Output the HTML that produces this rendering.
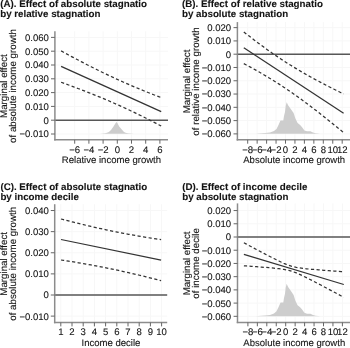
<!DOCTYPE html>
<html><head><meta charset="utf-8"><style>
html,body{margin:0;padding:0;background:#fff;overflow:hidden}
svg{display:block;will-change:transform;text-rendering:geometricPrecision;font-family:"Liberation Sans",sans-serif;fill:#141414}
text{stroke:#141414;stroke-width:0.1px}
text.b{stroke-width:0.1px}
</style></head><body>
<svg width="350" height="348" viewBox="0 0 350 348">
<rect width="350" height="348" fill="#fff"/>
<line x1="54.90" y1="37.40" x2="168.00" y2="37.40" stroke="#f7f7f7" stroke-width="1.0" />
<line x1="54.90" y1="51.20" x2="168.00" y2="51.20" stroke="#f7f7f7" stroke-width="1.0" />
<line x1="54.90" y1="65.00" x2="168.00" y2="65.00" stroke="#f7f7f7" stroke-width="1.0" />
<line x1="54.90" y1="78.80" x2="168.00" y2="78.80" stroke="#f7f7f7" stroke-width="1.0" />
<line x1="54.90" y1="92.60" x2="168.00" y2="92.60" stroke="#f7f7f7" stroke-width="1.0" />
<line x1="54.90" y1="106.40" x2="168.00" y2="106.40" stroke="#f7f7f7" stroke-width="1.0" />
<line x1="54.90" y1="120.20" x2="168.00" y2="120.20" stroke="#f7f7f7" stroke-width="1.0" />
<line x1="54.90" y1="134.00" x2="168.00" y2="134.00" stroke="#f7f7f7" stroke-width="1.0" />
<line x1="74.70" y1="31.30" x2="74.70" y2="139.80" stroke="#f7f7f7" stroke-width="1.0" />
<line x1="88.90" y1="31.30" x2="88.90" y2="139.80" stroke="#f7f7f7" stroke-width="1.0" />
<line x1="103.10" y1="31.30" x2="103.10" y2="139.80" stroke="#f7f7f7" stroke-width="1.0" />
<line x1="117.30" y1="31.30" x2="117.30" y2="139.80" stroke="#f7f7f7" stroke-width="1.0" />
<line x1="131.50" y1="31.30" x2="131.50" y2="139.80" stroke="#f7f7f7" stroke-width="1.0" />
<line x1="145.70" y1="31.30" x2="145.70" y2="139.80" stroke="#f7f7f7" stroke-width="1.0" />
<line x1="159.90" y1="31.30" x2="159.90" y2="139.80" stroke="#f7f7f7" stroke-width="1.0" />
<polygon points="100.00,133.70 105.00,133.30 107.00,132.80 108.90,131.90 111.00,130.10 113.50,126.40 115.50,123.20 116.50,121.90 117.50,123.20 119.20,126.40 122.20,130.10 124.00,131.90 125.60,132.80 128.00,133.30 134.00,133.70" fill="#cdcdcd"/>
<line x1="54.90" y1="120.20" x2="168.00" y2="120.20" stroke="#575757" stroke-width="1.5" />
<path d="M61.10,50.92 L63.60,52.28 L66.11,53.64 L68.61,54.99 L71.11,56.33 L73.61,57.66 L76.11,58.99 L78.62,60.30 L81.12,61.61 L83.62,62.91 L86.12,64.20 L88.63,65.48 L91.13,66.75 L93.63,68.01 L96.13,69.26 L98.64,70.50 L101.14,71.73 L103.64,72.95 L106.15,74.15 L108.65,75.34 L111.15,76.52 L113.65,77.69 L116.16,78.85 L118.66,79.99 L121.16,81.12 L123.66,82.24 L126.16,83.34 L128.67,84.44 L131.17,85.52 L133.67,86.58 L136.18,87.64 L138.68,88.69 L141.18,89.72 L143.68,90.74 L146.19,91.75 L148.69,92.75 L151.19,93.74 L153.69,94.72 L156.19,95.70 L158.70,96.66 L161.20,97.61" fill="none" stroke="#333333" stroke-width="1.25" stroke-dasharray="3.2 2.4"/>
<path d="M61.10,82.28 L63.60,83.18 L66.11,84.08 L68.61,84.99 L71.11,85.91 L73.61,86.84 L76.11,87.77 L78.62,88.72 L81.12,89.67 L83.62,90.63 L86.12,91.60 L88.63,92.58 L91.13,93.57 L93.63,94.57 L96.13,95.58 L98.64,96.60 L101.14,97.63 L103.64,98.67 L106.15,99.73 L108.65,100.80 L111.15,101.88 L113.65,102.97 L116.16,104.07 L118.66,105.19 L121.16,106.32 L123.66,107.46 L126.16,108.62 L128.67,109.78 L131.17,110.96 L133.67,112.16 L136.18,113.36 L138.68,114.57 L141.18,115.80 L143.68,117.04 L146.19,118.29 L148.69,119.55 L151.19,120.82 L153.69,122.10 L156.19,123.38 L158.70,124.68 L161.20,125.99" fill="none" stroke="#333333" stroke-width="1.25" stroke-dasharray="3.2 2.4"/>
<line x1="61.10" y1="66.40" x2="161.20" y2="111.60" stroke="#333333" stroke-width="1.25" />
<line x1="54.90" y1="31.30" x2="54.90" y2="140.55" stroke="#8c8c8c" stroke-width="1.5" />
<line x1="54.15" y1="139.80" x2="168.00" y2="139.80" stroke="#8c8c8c" stroke-width="1.5" />
<line x1="51.00" y1="37.40" x2="54.90" y2="37.40" stroke="#666666" stroke-width="1.0" />
<text x="48.90" y="40.82" font-size="9.55" font-weight="normal" text-anchor="end" >0.060</text>
<line x1="51.00" y1="51.20" x2="54.90" y2="51.20" stroke="#666666" stroke-width="1.0" />
<text x="48.90" y="54.62" font-size="9.55" font-weight="normal" text-anchor="end" >0.050</text>
<line x1="51.00" y1="65.00" x2="54.90" y2="65.00" stroke="#666666" stroke-width="1.0" />
<text x="48.90" y="68.42" font-size="9.55" font-weight="normal" text-anchor="end" >0.040</text>
<line x1="51.00" y1="78.80" x2="54.90" y2="78.80" stroke="#666666" stroke-width="1.0" />
<text x="48.90" y="82.22" font-size="9.55" font-weight="normal" text-anchor="end" >0.030</text>
<line x1="51.00" y1="92.60" x2="54.90" y2="92.60" stroke="#666666" stroke-width="1.0" />
<text x="48.90" y="96.02" font-size="9.55" font-weight="normal" text-anchor="end" >0.020</text>
<line x1="51.00" y1="106.40" x2="54.90" y2="106.40" stroke="#666666" stroke-width="1.0" />
<text x="48.90" y="109.82" font-size="9.55" font-weight="normal" text-anchor="end" >0.010</text>
<line x1="51.00" y1="120.20" x2="54.90" y2="120.20" stroke="#666666" stroke-width="1.0" />
<text x="48.90" y="123.62" font-size="9.55" font-weight="normal" text-anchor="end" >0</text>
<line x1="51.00" y1="134.00" x2="54.90" y2="134.00" stroke="#666666" stroke-width="1.0" />
<text x="48.90" y="137.42" font-size="9.55" font-weight="normal" text-anchor="end" >−0.010</text>
<line x1="74.70" y1="139.80" x2="74.70" y2="143.70" stroke="#666666" stroke-width="1.0" />
<text x="74.70" y="153.10" font-size="9.55" font-weight="normal" text-anchor="middle" >−6</text>
<line x1="88.90" y1="139.80" x2="88.90" y2="143.70" stroke="#666666" stroke-width="1.0" />
<text x="88.90" y="153.10" font-size="9.55" font-weight="normal" text-anchor="middle" >−4</text>
<line x1="103.10" y1="139.80" x2="103.10" y2="143.70" stroke="#666666" stroke-width="1.0" />
<text x="103.10" y="153.10" font-size="9.55" font-weight="normal" text-anchor="middle" >−2</text>
<line x1="117.30" y1="139.80" x2="117.30" y2="143.70" stroke="#666666" stroke-width="1.0" />
<text x="117.30" y="153.10" font-size="9.55" font-weight="normal" text-anchor="middle" >0</text>
<line x1="131.50" y1="139.80" x2="131.50" y2="143.70" stroke="#666666" stroke-width="1.0" />
<text x="131.50" y="153.10" font-size="9.55" font-weight="normal" text-anchor="middle" >2</text>
<line x1="145.70" y1="139.80" x2="145.70" y2="143.70" stroke="#666666" stroke-width="1.0" />
<text x="145.70" y="153.10" font-size="9.55" font-weight="normal" text-anchor="middle" >4</text>
<line x1="159.90" y1="139.80" x2="159.90" y2="143.70" stroke="#666666" stroke-width="1.0" />
<text x="159.90" y="153.10" font-size="9.55" font-weight="normal" text-anchor="middle" >6</text>
<text x="111.45" y="163.00" font-size="9.55" font-weight="normal" text-anchor="middle" >Relative income growth</text>
<text x="0.00" y="0.00" font-size="9.75" font-weight="normal" text-anchor="middle" transform="translate(7.00,86.05) rotate(-90)">Marginal effect</text>
<text x="0.00" y="0.00" font-size="9.75" font-weight="normal" text-anchor="middle" transform="translate(16.30,86.05) rotate(-90)">of absolute income growth</text>
<text class="b" x="0.20" y="6.90" font-size="9.75" font-weight="bold" text-anchor="start" >(A). Effect of absolute stagnatio</text>
<text class="b" x="0.20" y="16.70" font-size="9.75" font-weight="bold" text-anchor="start" >by relative stagnation</text>
<line x1="237.40" y1="27.64" x2="351.00" y2="27.64" stroke="#f7f7f7" stroke-width="1.0" />
<line x1="237.40" y1="40.92" x2="351.00" y2="40.92" stroke="#f7f7f7" stroke-width="1.0" />
<line x1="237.40" y1="54.20" x2="351.00" y2="54.20" stroke="#f7f7f7" stroke-width="1.0" />
<line x1="237.40" y1="67.48" x2="351.00" y2="67.48" stroke="#f7f7f7" stroke-width="1.0" />
<line x1="237.40" y1="80.76" x2="351.00" y2="80.76" stroke="#f7f7f7" stroke-width="1.0" />
<line x1="237.40" y1="94.04" x2="351.00" y2="94.04" stroke="#f7f7f7" stroke-width="1.0" />
<line x1="237.40" y1="107.32" x2="351.00" y2="107.32" stroke="#f7f7f7" stroke-width="1.0" />
<line x1="237.40" y1="120.60" x2="351.00" y2="120.60" stroke="#f7f7f7" stroke-width="1.0" />
<line x1="237.40" y1="133.88" x2="351.00" y2="133.88" stroke="#f7f7f7" stroke-width="1.0" />
<line x1="247.70" y1="22.10" x2="247.70" y2="139.80" stroke="#f7f7f7" stroke-width="1.0" />
<line x1="257.15" y1="22.10" x2="257.15" y2="139.80" stroke="#f7f7f7" stroke-width="1.0" />
<line x1="266.60" y1="22.10" x2="266.60" y2="139.80" stroke="#f7f7f7" stroke-width="1.0" />
<line x1="276.05" y1="22.10" x2="276.05" y2="139.80" stroke="#f7f7f7" stroke-width="1.0" />
<line x1="285.50" y1="22.10" x2="285.50" y2="139.80" stroke="#f7f7f7" stroke-width="1.0" />
<line x1="294.95" y1="22.10" x2="294.95" y2="139.80" stroke="#f7f7f7" stroke-width="1.0" />
<line x1="304.40" y1="22.10" x2="304.40" y2="139.80" stroke="#f7f7f7" stroke-width="1.0" />
<line x1="313.85" y1="22.10" x2="313.85" y2="139.80" stroke="#f7f7f7" stroke-width="1.0" />
<line x1="323.30" y1="22.10" x2="323.30" y2="139.80" stroke="#f7f7f7" stroke-width="1.0" />
<line x1="332.75" y1="22.10" x2="332.75" y2="139.80" stroke="#f7f7f7" stroke-width="1.0" />
<line x1="342.20" y1="22.10" x2="342.20" y2="139.80" stroke="#f7f7f7" stroke-width="1.0" />
<polygon points="256.00,133.70 258.00,133.50 265.00,133.10 270.00,132.50 274.00,131.00 276.50,129.00 278.50,125.00 280.00,121.50 280.60,120.40 283.30,120.40 284.00,116.00 285.00,112.00 285.70,105.90 286.70,102.30 288.10,105.30 291.10,109.50 293.60,113.10 295.40,118.60 297.60,123.10 300.10,124.90 301.90,127.00 304.40,130.40 307.00,131.30 310.40,131.30 313.00,132.60 315.60,133.20 318.10,133.40 320.00,133.70" fill="#cdcdcd"/>
<line x1="237.40" y1="54.20" x2="351.00" y2="54.20" stroke="#575757" stroke-width="1.5" />
<path d="M243.80,31.98 L246.30,33.93 L248.79,35.86 L251.29,37.78 L253.78,39.68 L256.28,41.56 L258.77,43.43 L261.26,45.27 L263.76,47.09 L266.25,48.90 L268.75,50.68 L271.25,52.43 L273.74,54.16 L276.24,55.87 L278.73,57.55 L281.23,59.21 L283.72,60.84 L286.22,62.45 L288.71,64.03 L291.21,65.59 L293.70,67.13 L296.19,68.64 L298.69,70.12 L301.19,71.59 L303.68,73.03 L306.18,74.46 L308.67,75.86 L311.17,77.24 L313.66,78.61 L316.16,79.96 L318.65,81.30 L321.14,82.62 L323.64,83.92 L326.13,85.21 L328.63,86.49 L331.12,87.76 L333.62,89.02 L336.12,90.27 L338.61,91.50 L341.11,92.73 L343.60,93.95" fill="none" stroke="#333333" stroke-width="1.25" stroke-dasharray="3.2 2.4"/>
<path d="M243.80,63.62 L246.30,64.95 L248.79,66.29 L251.29,67.65 L253.78,69.02 L256.28,70.41 L258.77,71.82 L261.26,73.25 L263.76,74.71 L266.25,76.18 L268.75,77.67 L271.25,79.19 L273.74,80.74 L276.24,82.30 L278.73,83.90 L281.23,85.51 L283.72,87.16 L286.22,88.82 L288.71,90.52 L291.21,92.23 L293.70,93.97 L296.19,95.74 L298.69,97.53 L301.19,99.34 L303.68,101.17 L306.18,103.02 L308.67,104.89 L311.17,106.78 L313.66,108.69 L316.16,110.61 L318.65,112.55 L321.14,114.51 L323.64,116.48 L326.13,118.46 L328.63,120.46 L331.12,122.46 L333.62,124.48 L336.12,126.51 L338.61,128.55 L341.11,130.59 L343.60,132.65" fill="none" stroke="#333333" stroke-width="1.25" stroke-dasharray="3.2 2.4"/>
<line x1="243.80" y1="47.80" x2="343.60" y2="113.30" stroke="#333333" stroke-width="1.25" />
<line x1="237.40" y1="22.10" x2="237.40" y2="140.55" stroke="#8c8c8c" stroke-width="1.5" />
<line x1="236.65" y1="139.80" x2="351.00" y2="139.80" stroke="#8c8c8c" stroke-width="1.5" />
<line x1="233.50" y1="27.64" x2="237.40" y2="27.64" stroke="#666666" stroke-width="1.0" />
<text x="231.10" y="31.06" font-size="9.55" font-weight="normal" text-anchor="end" >0.020</text>
<line x1="233.50" y1="40.92" x2="237.40" y2="40.92" stroke="#666666" stroke-width="1.0" />
<text x="231.10" y="44.34" font-size="9.55" font-weight="normal" text-anchor="end" >0.010</text>
<line x1="233.50" y1="54.20" x2="237.40" y2="54.20" stroke="#666666" stroke-width="1.0" />
<text x="231.10" y="57.62" font-size="9.55" font-weight="normal" text-anchor="end" >0</text>
<line x1="233.50" y1="67.48" x2="237.40" y2="67.48" stroke="#666666" stroke-width="1.0" />
<text x="231.10" y="70.90" font-size="9.55" font-weight="normal" text-anchor="end" >−0.010</text>
<line x1="233.50" y1="80.76" x2="237.40" y2="80.76" stroke="#666666" stroke-width="1.0" />
<text x="231.10" y="84.18" font-size="9.55" font-weight="normal" text-anchor="end" >−0.020</text>
<line x1="233.50" y1="94.04" x2="237.40" y2="94.04" stroke="#666666" stroke-width="1.0" />
<text x="231.10" y="97.46" font-size="9.55" font-weight="normal" text-anchor="end" >−0.030</text>
<line x1="233.50" y1="107.32" x2="237.40" y2="107.32" stroke="#666666" stroke-width="1.0" />
<text x="231.10" y="110.74" font-size="9.55" font-weight="normal" text-anchor="end" >−0.040</text>
<line x1="233.50" y1="120.60" x2="237.40" y2="120.60" stroke="#666666" stroke-width="1.0" />
<text x="231.10" y="124.02" font-size="9.55" font-weight="normal" text-anchor="end" >−0.050</text>
<line x1="233.50" y1="133.88" x2="237.40" y2="133.88" stroke="#666666" stroke-width="1.0" />
<text x="231.10" y="137.30" font-size="9.55" font-weight="normal" text-anchor="end" >−0.060</text>
<line x1="247.70" y1="139.80" x2="247.70" y2="143.70" stroke="#666666" stroke-width="1.0" />
<text x="247.70" y="153.00" font-size="9.55" font-weight="normal" text-anchor="middle" >−8</text>
<line x1="257.15" y1="139.80" x2="257.15" y2="143.70" stroke="#666666" stroke-width="1.0" />
<text x="257.15" y="153.00" font-size="9.55" font-weight="normal" text-anchor="middle" >−6</text>
<line x1="266.60" y1="139.80" x2="266.60" y2="143.70" stroke="#666666" stroke-width="1.0" />
<text x="266.60" y="153.00" font-size="9.55" font-weight="normal" text-anchor="middle" >−4</text>
<line x1="276.05" y1="139.80" x2="276.05" y2="143.70" stroke="#666666" stroke-width="1.0" />
<text x="276.05" y="153.00" font-size="9.55" font-weight="normal" text-anchor="middle" >−2</text>
<line x1="285.50" y1="139.80" x2="285.50" y2="143.70" stroke="#666666" stroke-width="1.0" />
<text x="285.50" y="153.00" font-size="9.55" font-weight="normal" text-anchor="middle" >0</text>
<line x1="294.95" y1="139.80" x2="294.95" y2="143.70" stroke="#666666" stroke-width="1.0" />
<text x="294.95" y="153.00" font-size="9.55" font-weight="normal" text-anchor="middle" >2</text>
<line x1="304.40" y1="139.80" x2="304.40" y2="143.70" stroke="#666666" stroke-width="1.0" />
<text x="304.40" y="153.00" font-size="9.55" font-weight="normal" text-anchor="middle" >4</text>
<line x1="313.85" y1="139.80" x2="313.85" y2="143.70" stroke="#666666" stroke-width="1.0" />
<text x="313.85" y="153.00" font-size="9.55" font-weight="normal" text-anchor="middle" >6</text>
<line x1="323.30" y1="139.80" x2="323.30" y2="143.70" stroke="#666666" stroke-width="1.0" />
<text x="323.30" y="153.00" font-size="9.55" font-weight="normal" text-anchor="middle" >8</text>
<line x1="332.75" y1="139.80" x2="332.75" y2="143.70" stroke="#666666" stroke-width="1.0" />
<text x="332.75" y="153.00" font-size="9.55" font-weight="normal" text-anchor="middle" >10</text>
<line x1="342.20" y1="139.80" x2="342.20" y2="143.70" stroke="#666666" stroke-width="1.0" />
<text x="342.20" y="153.00" font-size="9.55" font-weight="normal" text-anchor="middle" >12</text>
<text x="294.20" y="162.90" font-size="9.55" font-weight="normal" text-anchor="middle" >Absolute income growth</text>
<text x="0.00" y="0.00" font-size="9.75" font-weight="normal" text-anchor="middle" transform="translate(189.60,81.45) rotate(-90)">Marginal effect</text>
<text x="0.00" y="0.00" font-size="9.75" font-weight="normal" text-anchor="middle" transform="translate(199.30,81.45) rotate(-90)">of relative income growth</text>
<text class="b" x="182.00" y="6.90" font-size="9.75" font-weight="bold" text-anchor="start" >(B). Effect of relative stagnatio</text>
<text class="b" x="182.00" y="16.70" font-size="9.75" font-weight="bold" text-anchor="start" >by absolute stagnation</text>
<line x1="54.70" y1="210.52" x2="167.20" y2="210.52" stroke="#f7f7f7" stroke-width="1.0" />
<line x1="54.70" y1="231.64" x2="167.20" y2="231.64" stroke="#f7f7f7" stroke-width="1.0" />
<line x1="54.70" y1="252.76" x2="167.20" y2="252.76" stroke="#f7f7f7" stroke-width="1.0" />
<line x1="54.70" y1="273.88" x2="167.20" y2="273.88" stroke="#f7f7f7" stroke-width="1.0" />
<line x1="54.70" y1="295.00" x2="167.20" y2="295.00" stroke="#f7f7f7" stroke-width="1.0" />
<line x1="54.70" y1="316.12" x2="167.20" y2="316.12" stroke="#f7f7f7" stroke-width="1.0" />
<line x1="60.80" y1="204.20" x2="60.80" y2="322.50" stroke="#f7f7f7" stroke-width="1.0" />
<line x1="72.00" y1="204.20" x2="72.00" y2="322.50" stroke="#f7f7f7" stroke-width="1.0" />
<line x1="83.20" y1="204.20" x2="83.20" y2="322.50" stroke="#f7f7f7" stroke-width="1.0" />
<line x1="94.40" y1="204.20" x2="94.40" y2="322.50" stroke="#f7f7f7" stroke-width="1.0" />
<line x1="105.60" y1="204.20" x2="105.60" y2="322.50" stroke="#f7f7f7" stroke-width="1.0" />
<line x1="116.80" y1="204.20" x2="116.80" y2="322.50" stroke="#f7f7f7" stroke-width="1.0" />
<line x1="128.00" y1="204.20" x2="128.00" y2="322.50" stroke="#f7f7f7" stroke-width="1.0" />
<line x1="139.20" y1="204.20" x2="139.20" y2="322.50" stroke="#f7f7f7" stroke-width="1.0" />
<line x1="150.40" y1="204.20" x2="150.40" y2="322.50" stroke="#f7f7f7" stroke-width="1.0" />
<line x1="161.60" y1="204.20" x2="161.60" y2="322.50" stroke="#f7f7f7" stroke-width="1.0" />
<line x1="54.70" y1="295.00" x2="167.20" y2="295.00" stroke="#575757" stroke-width="1.5" />
<path d="M61.00,219.00 L63.50,219.66 L66.00,220.31 L68.51,220.96 L71.01,221.60 L73.51,222.23 L76.02,222.86 L78.52,223.48 L81.02,224.09 L83.52,224.69 L86.03,225.29 L88.53,225.88 L91.03,226.46 L93.53,227.04 L96.03,227.61 L98.54,228.17 L101.04,228.72 L103.54,229.26 L106.05,229.80 L108.55,230.33 L111.05,230.85 L113.55,231.36 L116.05,231.87 L118.56,232.37 L121.06,232.86 L123.56,233.34 L126.06,233.81 L128.57,234.28 L131.07,234.74 L133.57,235.19 L136.07,235.64 L138.58,236.07 L141.08,236.50 L143.58,236.93 L146.08,237.34 L148.59,237.75 L151.09,238.15 L153.59,238.55 L156.09,238.94 L158.60,239.32 L161.10,239.69" fill="none" stroke="#333333" stroke-width="1.25" stroke-dasharray="3.2 2.4"/>
<path d="M61.00,260.00 L63.50,260.38 L66.00,260.76 L68.51,261.15 L71.01,261.54 L73.51,261.94 L76.02,262.35 L78.52,262.77 L81.02,263.19 L83.52,263.62 L86.03,264.06 L88.53,264.50 L91.03,264.96 L93.53,265.42 L96.03,265.88 L98.54,266.36 L101.04,266.84 L103.54,267.33 L106.05,267.83 L108.55,268.34 L111.05,268.85 L113.55,269.37 L116.05,269.90 L118.56,270.44 L121.06,270.98 L123.56,271.54 L126.06,272.10 L128.57,272.66 L131.07,273.24 L133.57,273.82 L136.07,274.41 L138.58,275.01 L141.08,275.62 L143.58,276.23 L146.08,276.85 L148.59,277.47 L151.09,278.11 L153.59,278.75 L156.09,279.39 L158.60,280.05 L161.10,280.71" fill="none" stroke="#333333" stroke-width="1.25" stroke-dasharray="3.2 2.4"/>
<line x1="61.00" y1="239.50" x2="161.10" y2="260.20" stroke="#333333" stroke-width="1.25" />
<line x1="54.70" y1="204.20" x2="54.70" y2="323.25" stroke="#8c8c8c" stroke-width="1.5" />
<line x1="53.95" y1="322.50" x2="167.20" y2="322.50" stroke="#8c8c8c" stroke-width="1.5" />
<line x1="50.80" y1="210.52" x2="54.70" y2="210.52" stroke="#666666" stroke-width="1.0" />
<text x="48.90" y="213.94" font-size="9.55" font-weight="normal" text-anchor="end" >0.040</text>
<line x1="50.80" y1="231.64" x2="54.70" y2="231.64" stroke="#666666" stroke-width="1.0" />
<text x="48.90" y="235.06" font-size="9.55" font-weight="normal" text-anchor="end" >0.030</text>
<line x1="50.80" y1="252.76" x2="54.70" y2="252.76" stroke="#666666" stroke-width="1.0" />
<text x="48.90" y="256.18" font-size="9.55" font-weight="normal" text-anchor="end" >0.020</text>
<line x1="50.80" y1="273.88" x2="54.70" y2="273.88" stroke="#666666" stroke-width="1.0" />
<text x="48.90" y="277.30" font-size="9.55" font-weight="normal" text-anchor="end" >0.010</text>
<line x1="50.80" y1="295.00" x2="54.70" y2="295.00" stroke="#666666" stroke-width="1.0" />
<text x="48.90" y="298.42" font-size="9.55" font-weight="normal" text-anchor="end" >0</text>
<line x1="50.80" y1="316.12" x2="54.70" y2="316.12" stroke="#666666" stroke-width="1.0" />
<text x="48.90" y="319.54" font-size="9.55" font-weight="normal" text-anchor="end" >−0.010</text>
<line x1="60.80" y1="322.50" x2="60.80" y2="326.40" stroke="#666666" stroke-width="1.0" />
<text x="60.80" y="334.80" font-size="9.55" font-weight="normal" text-anchor="middle" >1</text>
<line x1="72.00" y1="322.50" x2="72.00" y2="326.40" stroke="#666666" stroke-width="1.0" />
<text x="72.00" y="334.80" font-size="9.55" font-weight="normal" text-anchor="middle" >2</text>
<line x1="83.20" y1="322.50" x2="83.20" y2="326.40" stroke="#666666" stroke-width="1.0" />
<text x="83.20" y="334.80" font-size="9.55" font-weight="normal" text-anchor="middle" >3</text>
<line x1="94.40" y1="322.50" x2="94.40" y2="326.40" stroke="#666666" stroke-width="1.0" />
<text x="94.40" y="334.80" font-size="9.55" font-weight="normal" text-anchor="middle" >4</text>
<line x1="105.60" y1="322.50" x2="105.60" y2="326.40" stroke="#666666" stroke-width="1.0" />
<text x="105.60" y="334.80" font-size="9.55" font-weight="normal" text-anchor="middle" >5</text>
<line x1="116.80" y1="322.50" x2="116.80" y2="326.40" stroke="#666666" stroke-width="1.0" />
<text x="116.80" y="334.80" font-size="9.55" font-weight="normal" text-anchor="middle" >6</text>
<line x1="128.00" y1="322.50" x2="128.00" y2="326.40" stroke="#666666" stroke-width="1.0" />
<text x="128.00" y="334.80" font-size="9.55" font-weight="normal" text-anchor="middle" >7</text>
<line x1="139.20" y1="322.50" x2="139.20" y2="326.40" stroke="#666666" stroke-width="1.0" />
<text x="139.20" y="334.80" font-size="9.55" font-weight="normal" text-anchor="middle" >8</text>
<line x1="150.40" y1="322.50" x2="150.40" y2="326.40" stroke="#666666" stroke-width="1.0" />
<text x="150.40" y="334.80" font-size="9.55" font-weight="normal" text-anchor="middle" >9</text>
<line x1="161.60" y1="322.50" x2="161.60" y2="326.40" stroke="#666666" stroke-width="1.0" />
<text x="161.60" y="334.80" font-size="9.55" font-weight="normal" text-anchor="middle" >10</text>
<text x="110.95" y="345.60" font-size="9.55" font-weight="normal" text-anchor="middle" >Income decile</text>
<text x="0.00" y="0.00" font-size="9.75" font-weight="normal" text-anchor="middle" transform="translate(7.00,263.85) rotate(-90)">Marginal effect</text>
<text x="0.00" y="0.00" font-size="9.75" font-weight="normal" text-anchor="middle" transform="translate(16.30,263.85) rotate(-90)">of absolute income growth</text>
<text class="b" x="0.40" y="189.90" font-size="9.75" font-weight="bold" text-anchor="start" >(C). Effect of absolute stagnatio</text>
<text class="b" x="0.40" y="199.70" font-size="9.75" font-weight="bold" text-anchor="start" >by income decile</text>
<line x1="237.50" y1="210.56" x2="351.00" y2="210.56" stroke="#f7f7f7" stroke-width="1.0" />
<line x1="237.50" y1="223.78" x2="351.00" y2="223.78" stroke="#f7f7f7" stroke-width="1.0" />
<line x1="237.50" y1="237.00" x2="351.00" y2="237.00" stroke="#f7f7f7" stroke-width="1.0" />
<line x1="237.50" y1="250.22" x2="351.00" y2="250.22" stroke="#f7f7f7" stroke-width="1.0" />
<line x1="237.50" y1="263.44" x2="351.00" y2="263.44" stroke="#f7f7f7" stroke-width="1.0" />
<line x1="237.50" y1="276.66" x2="351.00" y2="276.66" stroke="#f7f7f7" stroke-width="1.0" />
<line x1="237.50" y1="289.88" x2="351.00" y2="289.88" stroke="#f7f7f7" stroke-width="1.0" />
<line x1="237.50" y1="303.10" x2="351.00" y2="303.10" stroke="#f7f7f7" stroke-width="1.0" />
<line x1="237.50" y1="316.32" x2="351.00" y2="316.32" stroke="#f7f7f7" stroke-width="1.0" />
<line x1="247.90" y1="203.40" x2="247.90" y2="322.40" stroke="#f7f7f7" stroke-width="1.0" />
<line x1="257.35" y1="203.40" x2="257.35" y2="322.40" stroke="#f7f7f7" stroke-width="1.0" />
<line x1="266.80" y1="203.40" x2="266.80" y2="322.40" stroke="#f7f7f7" stroke-width="1.0" />
<line x1="276.25" y1="203.40" x2="276.25" y2="322.40" stroke="#f7f7f7" stroke-width="1.0" />
<line x1="285.70" y1="203.40" x2="285.70" y2="322.40" stroke="#f7f7f7" stroke-width="1.0" />
<line x1="295.15" y1="203.40" x2="295.15" y2="322.40" stroke="#f7f7f7" stroke-width="1.0" />
<line x1="304.60" y1="203.40" x2="304.60" y2="322.40" stroke="#f7f7f7" stroke-width="1.0" />
<line x1="314.05" y1="203.40" x2="314.05" y2="322.40" stroke="#f7f7f7" stroke-width="1.0" />
<line x1="323.50" y1="203.40" x2="323.50" y2="322.40" stroke="#f7f7f7" stroke-width="1.0" />
<line x1="332.95" y1="203.40" x2="332.95" y2="322.40" stroke="#f7f7f7" stroke-width="1.0" />
<line x1="342.40" y1="203.40" x2="342.40" y2="322.40" stroke="#f7f7f7" stroke-width="1.0" />
<polygon points="256.00,316.20 258.00,315.99 265.00,315.58 270.00,314.96 274.00,313.42 276.50,311.36 278.50,307.24 280.00,303.63 280.60,302.50 283.30,302.50 284.00,297.97 285.00,293.85 285.70,287.57 286.70,283.86 288.10,286.95 291.10,291.27 293.60,294.98 295.40,300.65 297.60,305.28 300.10,307.14 301.90,309.30 304.40,312.80 307.00,313.73 310.40,313.73 313.00,315.07 315.60,315.69 318.10,315.89 320.00,316.20" fill="#cdcdcd"/>
<line x1="237.50" y1="237.00" x2="351.00" y2="237.00" stroke="#575757" stroke-width="1.5" />
<path d="M243.90,242.80 L246.40,244.13 L248.90,245.46 L251.39,246.79 L253.89,248.12 L256.39,249.45 L258.88,250.77 L261.38,252.09 L263.88,253.40 L266.38,254.70 L268.88,256.00 L271.37,257.29 L273.87,258.56 L276.37,259.81 L278.87,261.03 L281.36,262.22 L283.86,263.34 L286.36,264.39 L288.86,265.33 L291.35,266.14 L293.85,266.82 L296.35,267.36 L298.85,267.80 L301.34,268.17 L303.84,268.49 L306.34,268.77 L308.84,269.03 L311.33,269.26 L313.83,269.48 L316.33,269.69 L318.82,269.90 L321.32,270.09 L323.82,270.28 L326.32,270.47 L328.81,270.66 L331.31,270.84 L333.81,271.02 L336.31,271.19 L338.81,271.37 L341.30,271.54 L343.80,271.72" fill="none" stroke="#333333" stroke-width="1.25" stroke-dasharray="3.2 2.4"/>
<path d="M243.90,265.80 L246.40,265.98 L248.90,266.16 L251.39,266.34 L253.89,266.52 L256.39,266.70 L258.88,266.89 L261.38,267.08 L263.88,267.28 L266.38,267.49 L268.88,267.70 L271.37,267.92 L273.87,268.16 L276.37,268.42 L278.87,268.71 L281.36,269.03 L283.86,269.42 L286.36,269.88 L288.86,270.45 L291.35,271.15 L293.85,271.98 L296.35,272.95 L298.85,274.02 L301.34,275.16 L303.84,276.35 L306.34,277.58 L308.84,278.83 L311.33,280.11 L313.83,281.40 L316.33,282.70 L318.82,284.00 L321.32,285.32 L323.82,286.64 L326.32,287.96 L328.81,289.28 L331.31,290.61 L333.81,291.94 L336.31,293.28 L338.81,294.61 L341.30,295.95 L343.80,297.28" fill="none" stroke="#333333" stroke-width="1.25" stroke-dasharray="3.2 2.4"/>
<line x1="243.90" y1="254.30" x2="343.80" y2="284.50" stroke="#333333" stroke-width="1.25" />
<line x1="237.50" y1="203.40" x2="237.50" y2="323.15" stroke="#8c8c8c" stroke-width="1.5" />
<line x1="236.75" y1="322.40" x2="351.00" y2="322.40" stroke="#8c8c8c" stroke-width="1.5" />
<line x1="233.60" y1="210.56" x2="237.50" y2="210.56" stroke="#666666" stroke-width="1.0" />
<text x="231.10" y="213.98" font-size="9.55" font-weight="normal" text-anchor="end" >0.020</text>
<line x1="233.60" y1="223.78" x2="237.50" y2="223.78" stroke="#666666" stroke-width="1.0" />
<text x="231.10" y="227.20" font-size="9.55" font-weight="normal" text-anchor="end" >0.010</text>
<line x1="233.60" y1="237.00" x2="237.50" y2="237.00" stroke="#666666" stroke-width="1.0" />
<text x="231.10" y="240.42" font-size="9.55" font-weight="normal" text-anchor="end" >0</text>
<line x1="233.60" y1="250.22" x2="237.50" y2="250.22" stroke="#666666" stroke-width="1.0" />
<text x="231.10" y="253.64" font-size="9.55" font-weight="normal" text-anchor="end" >−0.010</text>
<line x1="233.60" y1="263.44" x2="237.50" y2="263.44" stroke="#666666" stroke-width="1.0" />
<text x="231.10" y="266.86" font-size="9.55" font-weight="normal" text-anchor="end" >−0.020</text>
<line x1="233.60" y1="276.66" x2="237.50" y2="276.66" stroke="#666666" stroke-width="1.0" />
<text x="231.10" y="280.08" font-size="9.55" font-weight="normal" text-anchor="end" >−0.030</text>
<line x1="233.60" y1="289.88" x2="237.50" y2="289.88" stroke="#666666" stroke-width="1.0" />
<text x="231.10" y="293.30" font-size="9.55" font-weight="normal" text-anchor="end" >−0.040</text>
<line x1="233.60" y1="303.10" x2="237.50" y2="303.10" stroke="#666666" stroke-width="1.0" />
<text x="231.10" y="306.52" font-size="9.55" font-weight="normal" text-anchor="end" >−0.050</text>
<line x1="233.60" y1="316.32" x2="237.50" y2="316.32" stroke="#666666" stroke-width="1.0" />
<text x="231.10" y="319.74" font-size="9.55" font-weight="normal" text-anchor="end" >−0.060</text>
<line x1="247.90" y1="322.40" x2="247.90" y2="326.30" stroke="#666666" stroke-width="1.0" />
<text x="247.90" y="334.80" font-size="9.55" font-weight="normal" text-anchor="middle" >−8</text>
<line x1="257.35" y1="322.40" x2="257.35" y2="326.30" stroke="#666666" stroke-width="1.0" />
<text x="257.35" y="334.80" font-size="9.55" font-weight="normal" text-anchor="middle" >−6</text>
<line x1="266.80" y1="322.40" x2="266.80" y2="326.30" stroke="#666666" stroke-width="1.0" />
<text x="266.80" y="334.80" font-size="9.55" font-weight="normal" text-anchor="middle" >−4</text>
<line x1="276.25" y1="322.40" x2="276.25" y2="326.30" stroke="#666666" stroke-width="1.0" />
<text x="276.25" y="334.80" font-size="9.55" font-weight="normal" text-anchor="middle" >−2</text>
<line x1="285.70" y1="322.40" x2="285.70" y2="326.30" stroke="#666666" stroke-width="1.0" />
<text x="285.70" y="334.80" font-size="9.55" font-weight="normal" text-anchor="middle" >0</text>
<line x1="295.15" y1="322.40" x2="295.15" y2="326.30" stroke="#666666" stroke-width="1.0" />
<text x="295.15" y="334.80" font-size="9.55" font-weight="normal" text-anchor="middle" >2</text>
<line x1="304.60" y1="322.40" x2="304.60" y2="326.30" stroke="#666666" stroke-width="1.0" />
<text x="304.60" y="334.80" font-size="9.55" font-weight="normal" text-anchor="middle" >4</text>
<line x1="314.05" y1="322.40" x2="314.05" y2="326.30" stroke="#666666" stroke-width="1.0" />
<text x="314.05" y="334.80" font-size="9.55" font-weight="normal" text-anchor="middle" >6</text>
<line x1="323.50" y1="322.40" x2="323.50" y2="326.30" stroke="#666666" stroke-width="1.0" />
<text x="323.50" y="334.80" font-size="9.55" font-weight="normal" text-anchor="middle" >8</text>
<line x1="332.95" y1="322.40" x2="332.95" y2="326.30" stroke="#666666" stroke-width="1.0" />
<text x="332.95" y="334.80" font-size="9.55" font-weight="normal" text-anchor="middle" >10</text>
<line x1="342.40" y1="322.40" x2="342.40" y2="326.30" stroke="#666666" stroke-width="1.0" />
<text x="342.40" y="334.80" font-size="9.55" font-weight="normal" text-anchor="middle" >12</text>
<text x="294.25" y="345.60" font-size="9.55" font-weight="normal" text-anchor="middle" >Absolute income growth</text>
<text x="0.00" y="0.00" font-size="9.75" font-weight="normal" text-anchor="middle" transform="translate(189.60,263.40) rotate(-90)">Marginal effect</text>
<text x="0.00" y="0.00" font-size="9.75" font-weight="normal" text-anchor="middle" transform="translate(199.30,263.40) rotate(-90)">of income decile</text>
<text class="b" x="182.20" y="189.90" font-size="9.75" font-weight="bold" text-anchor="start" >(D). Effect of income decile</text>
<text class="b" x="182.20" y="199.70" font-size="9.75" font-weight="bold" text-anchor="start" >by absolute stagnation</text>
</svg></body></html>
